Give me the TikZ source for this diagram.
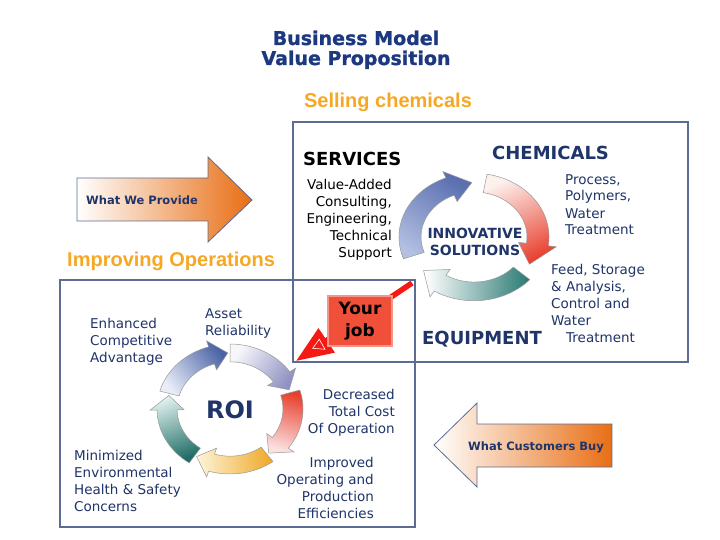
\documentclass[tikz,border=0pt]{standalone}
\usepackage{fontspec}
\setmainfont{DejaVu Sans}
\newfontfamily\bannerfont{Liberation Sans}
\newfontfamily\heavyfont[FakeBold=1.2]{DejaVu Sans Bold}
\usetikzlibrary{arrows.meta}

\definecolor{navy}{RGB}{31,52,105}
\definecolor{titleblue}{RGB}{28,56,128}
\definecolor{goldtext}{RGB}{246,168,36}
\definecolor{boxline}{RGB}{92,108,148}
\definecolor{orangeend}{RGB}{232,110,20}
\definecolor{jobred}{RGB}{240,80,58}
\definecolor{callred}{RGB}{245,25,20}

% curved arrow on a ring: style, tail angle, tip angle, head length, radius, half width, head half width
\newcommand{\ringarrow}[7]{%
  \shadedraw[#1] ({#2}:{#5+#6}) arc[start angle={#2}, end angle={#3+#4}, radius={#5+#6}]
    -- ({#3+#4}:{#5+#7}) -- ({#3}:{#5}) -- ({#3+#4}:{#5-#7}) -- ({#3+#4}:{#5-#6})
    arc[start angle={#3+#4}, end angle={#2}, radius={#5-#6}] -- cycle;}

\begin{document}
\begin{tikzpicture}[x=1pt,y=1pt,
    body/.style={font=\fontsize{13.5}{17}\selectfont, inner sep=0pt},
    navytext/.style={body, text=navy},
    bighead/.style={font=\bfseries\fontsize{18}{20}\selectfont, inner sep=0pt},
    banner/.style={font=\bannerfont\bfseries\fontsize{20}{22}\selectfont, text=goldtext, inner sep=0pt},
    arrowlabel/.style={font=\bfseries\fontsize{11.5}{13}\selectfont, text=navy, inner sep=0pt},
    ringedge/.style={draw=black!40, line width=0.5pt},
    bigarrow/.style={left color=white, right color=orangeend, draw=boxline, line width=0.8pt},
    jobbox/.style={fill=jobred, draw=jobred!60, line width=1.2pt, minimum width=64pt, minimum height=50pt,
                   align=center, font=\bfseries\fontsize{17}{22}\selectfont, inner sep=0pt}]

  \useasboundingbox[fill=white] (0,0) rectangle (720,-540);

  % titles
  \node[font=\heavyfont\fontsize{19}{20}\selectfont, text=titleblue, anchor=base] (title1) at (356,-45) {Business Model};
  \node[font=\heavyfont\fontsize{19}{20}\selectfont, text=titleblue, anchor=base] (title2) at (356,-65) {Value Proposition};
  \node[banner, anchor=base] (selling) at (388,-108) {Selling chemicals};
  \node[banner, anchor=base west] (improving) at (67,-266) {Improving Operations};

  % the two frames
  \draw[boxline, line width=1.2pt] (293,-122) rectangle (688,-362);
  \draw[boxline, line width=1.2pt] (60,-280) rectangle (415,-527);

  % big block arrows
  \shadedraw[bigarrow] (77,-178) -- (208,-178) -- (208,-157) -- (252,-200) -- (208,-242) -- (208,-221) -- (77,-221) -- cycle;
  \node[arrowlabel] (provide) at (142,-200) {What We Provide};
  \shadedraw[bigarrow] (434,-445) -- (477,-403) -- (477,-424) -- (612,-424) -- (612,-467) -- (477,-467) -- (477,-487) -- cycle;
  \node[arrowlabel] (buy) at (536,-447) {What Customers Buy};

  % innovative solutions ring
  \begin{scope}[shift={(474,-237)}, yscale=0.85]
    \ringarrow{ringedge, top color={rgb,255:red,179;green,192;blue,226}, bottom color={rgb,255:red,90;green,112;blue,176}, shading angle=146}{200}{92}{20}{64}{11}{19}
    \ringarrow{ringedge, top color={rgb,255:red,253;green,241;blue,238}, bottom color={rgb,255:red,232;green,65;blue,47}, shading angle=25}{80}{-30}{22}{64}{11}{19}
    \ringarrow{ringedge, top color={rgb,255:red,42;green,122;blue,115}, bottom color=white, shading angle=-92}{-42}{-142}{20}{64}{11}{19}
  \end{scope}
  \node[font=\bfseries\fontsize{14}{17}\selectfont, text=navy, align=center, anchor=base, inner sep=0pt] (innov) at (475,-255) {INNOVATIVE\\SOLUTIONS};

  \node[bighead, anchor=base west] (services) at (303,-166) {SERVICES};
  \node[body, align=right, anchor=base east] (servtext) at (392,-257) {Value-Added\\Consulting,\\Engineering,\\Technical\\Support};
  \node[bighead, text=navy, anchor=base west] (chemicals) at (492,-160) {CHEMICALS};
  \node[navytext, align=left, anchor=base west] (chemtext) at (565,-235) {Process,\\Polymers,\\Water\\Treatment};
  \node[navytext, align=left, anchor=base west] (equiptext) at (551,-342) {Feed, Storage\\\& Analysis,\\Control and\\Water\\\hspace*{15pt}Treatment};
  \node[bighead, text=navy, anchor=base west] (equipment) at (422,-344) {EQUIPMENT};

  % ROI ring
  \begin{scope}[shift={(230,-409)}, yscale=0.89]
    \ringarrow{ringedge, top color={rgb,255:red,232;green,237;blue,247}, bottom color={rgb,255:red,74;green,98;blue,166}, shading angle=128}{164}{92}{15}{63}{10}{17}
    \ringarrow{ringedge, top color={rgb,255:red,246;green,246;blue,251}, bottom color={rgb,255:red,144;green,147;blue,194}, shading angle=55}{90}{20}{15}{63}{10}{17}
    \ringarrow{ringedge, top color={rgb,255:red,232;green,64;blue,46}, bottom color={rgb,255:red,251;green,224;blue,224}, shading angle=-17}{17}{-52}{15}{63}{10}{17}
    \ringarrow{ringedge, top color={rgb,255:red,239;green,168;blue,40}, bottom color={rgb,255:red,253;green,244;blue,216}, shading angle=-88}{-54}{-122}{15}{63}{10}{17}
    \ringarrow{ringedge, top color={rgb,255:red,31;green,109;blue,102}, bottom color={rgb,255:red,220;green,239;blue,236}, shading angle=-160}{-124}{-194}{15}{63}{10}{17}
  \end{scope}
  \node[font=\bfseries\fontsize{24}{26}\selectfont, text=navy, inner sep=0pt] (roi) at (230,-410) {ROI};

  \node[navytext, align=left, anchor=base west] (enhanced) at (90,-362) {Enhanced\\Competitive\\Advantage};
  \node[navytext, align=left, anchor=base west] (asset) at (205,-335) {Asset\\Reliability};
  \node[navytext, align=right, anchor=base east] (decreased) at (395,-433) {Decreased\\Total Cost\\Of Operation};
  \node[navytext, align=left, anchor=base west] (minimized) at (74,-511) {Minimized\\Environmental\\Health \& Safety\\Concerns};
  \node[navytext, align=right, anchor=base east] (improved) at (374,-518) {Improved\\Operating and\\Production\\Efficiencies};

  % your job callout
  \coordinate (jobfrom) at (412,-283);
  \coordinate (jobtip) at (296,-361);
  \draw[callred, line width=5.5pt, -{Triangle[length=37pt,width=28pt]}] (jobfrom) -- (jobtip);
  \draw[white, line width=0.6pt] (312.7,-348.3) -- (319.3,-339.3) -- (325,-349.3) -- cycle;
  \node[jobbox] (job) at (360,-321) {Your\\job};

\end{tikzpicture}
\end{document}
